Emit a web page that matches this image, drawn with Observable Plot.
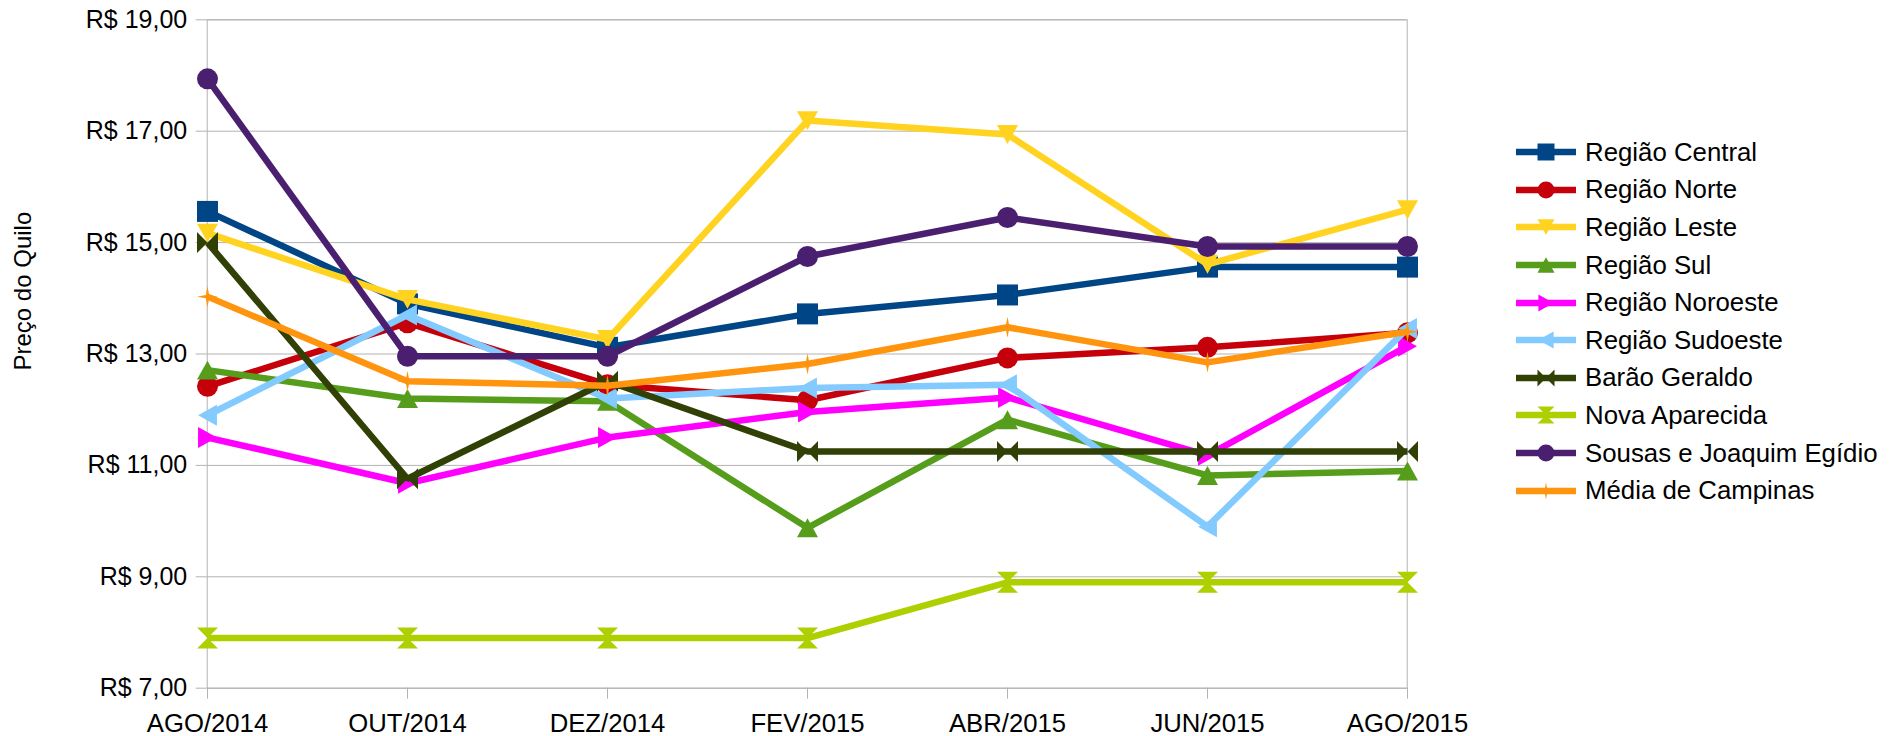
<!DOCTYPE html>
<html><head><meta charset="utf-8">
<script src="https://cdn.jsdelivr.net/npm/d3@7"></script>
<script src="https://cdn.jsdelivr.net/npm/@observablehq/plot@0.6"></script>
<style>
body{margin:0;background:#fff;font-family:"Liberation Sans",Arial,sans-serif;}
#wrap{position:relative;width:1898px;height:736px;}
#legend{position:absolute;left:1516px;top:133.5px;}
.row{display:flex;align-items:center;height:37.6px;font-size:25.8px;color:#000;white-space:nowrap;}
.row svg{margin-right:9px;flex:none;}
</style></head><body><div id="wrap"><div id="legend"></div></div>
<script>
const months = ["AGO/2014","OUT/2014","DEZ/2014","FEV/2015","ABR/2015","JUN/2015","AGO/2015"];
const regiaoCentral  = [15.56,13.90,13.12,13.72,14.06,14.56,14.56];
const regiaoNorte    = [12.42,13.56,12.45,12.17,12.93,13.12,13.38];
const regiaoLeste    = [15.17,13.98,13.26,17.19,16.94,14.61,15.59];
const regiaoSul      = [12.71,12.20,12.15,9.88,11.82,10.82,10.90];
const regiaoNoroeste = [11.50,10.68,11.50,11.96,12.22,11.18,13.14];
const regiaoSudoeste = [11.90,13.70,12.20,12.39,12.45,9.90,13.46];
const baraoGeraldo   = [15.00,10.76,12.51,11.25,11.25,11.25,11.25];
const novaAparecida  = [7.90,7.90,7.90,7.90,8.90,8.90,8.90];
const sousasJoaquim  = [17.94,12.96,12.96,14.75,15.45,14.93,14.93];
const mediaCampinas  = [14.03,12.51,12.43,12.82,13.48,12.85,13.40];

const seriesNames = ["Região Central","Região Norte","Região Leste","Região Sul","Região Noroeste","Região Sudoeste","Barão Geraldo","Nova Aparecida","Sousas e Joaquim Egídio","Média de Campinas"];
const seriesValues = [regiaoCentral,regiaoNorte,regiaoLeste,regiaoSul,regiaoNoroeste,regiaoSudoeste,baraoGeraldo,novaAparecida,sousasJoaquim,mediaCampinas];
const seriesColors = ["#004586","#c5000b","#ffd320","#579d1c","#ff00ff","#83caff","#314004","#aecf00","#4b1f6f","#ff950e"];
const seriesShapes = ["square","circle","down","up","right","left","bowtie","hourglass","circle","star"];
const yTicks = [7,9,11,13,15,17,19];

const shapes = {
  square:(c,h)=>{c.moveTo(-h,-h);c.lineTo(h,-h);c.lineTo(h,h);c.lineTo(-h,h);c.closePath();},
  circle:(c,h)=>{c.moveTo(h,0);c.arc(0,0,h,0,2*Math.PI);c.closePath();},
  down:(c,h)=>{c.moveTo(-h,-h*0.9);c.lineTo(h,-h*0.9);c.lineTo(0,h*0.9);c.closePath();},
  up:(c,h)=>{c.moveTo(-h,h*0.9);c.lineTo(h,h*0.9);c.lineTo(0,-h*0.9);c.closePath();},
  right:(c,h)=>{c.moveTo(-h*0.9,-h);c.lineTo(-h*0.9,h);c.lineTo(h*0.9,0);c.closePath();},
  left:(c,h)=>{c.moveTo(h*0.9,-h);c.lineTo(h*0.9,h);c.lineTo(-h*0.9,0);c.closePath();},
  bowtie:(c,h)=>{c.moveTo(-h,-h);c.lineTo(0,0);c.lineTo(-h,h);c.closePath();c.moveTo(h,-h);c.lineTo(0,0);c.lineTo(h,h);c.closePath();},
  hourglass:(c,h)=>{c.moveTo(-h,-h);c.lineTo(h,-h);c.lineTo(0,0);c.closePath();c.moveTo(-h,h);c.lineTo(h,h);c.lineTo(0,0);c.closePath();},
  star:(c,h)=>{const w=h*0.16;c.moveTo(0,-h);c.lineTo(w,-w);c.lineTo(h,0);c.lineTo(w,w);c.lineTo(0,h);c.lineTo(-w,w);c.lineTo(-h,0);c.lineTo(-w,-w);c.closePath();}
};
const symbolOf = name => ({draw(ctx,size){ shapes[name](ctx, Math.sqrt(size/Math.PI)); }});

const fmt = d => "R$ " + d.toFixed(2).replace(".", ",");
const grid = "#b3b3b3";

const marks = [
  Plot.gridY(yTicks, {stroke: grid, strokeOpacity: 1}),
  Plot.frame({stroke: grid}),
  Plot.axisY({ticks: yTicks, tickSize: 11, tickPadding: 9, tickFormat: fmt, stroke: grid, strokeOpacity: 1, fill: "#000", fontSize: 25, label: null}),
  Plot.axisX({tickSize: 11, tickPadding: 15, stroke: grid, strokeOpacity: 1, fill: "#000", fontSize: 25.7, label: null}),
  Plot.text(["Preço do Quilo"], {frameAnchor: "left", rotate: -90, dx: -183.7, dy: 16.5, fontSize: 24, fill: "#000"})
];
seriesNames.forEach((name, i) => {
  const data = months.map((m, j) => ({month: m, value: seriesValues[i][j]}));
  marks.push(Plot.line(data, {x: "month", y: "value", stroke: seriesColors[i], strokeWidth: 6.5, strokeLinejoin: "miter", strokeLinecap: "butt"}));
  marks.push(Plot.dot(data, {x: "month", y: "value", symbol: symbolOf(seriesShapes[i]), r: 10.5, fill: seriesColors[i], stroke: "none"}));
});

const chart = Plot.plot({
  width: 1898, height: 736,
  marginLeft: 206.7, marginRight: 491.3, marginTop: 19.3, marginBottom: 48.3,
  style: {fontFamily: "'Liberation Sans', Arial, sans-serif", background: "#fff", overflow: "visible"},
  x: {type: "point", domain: months, padding: 0},
  y: {domain: [7, 19]},
  marks
});
document.getElementById("wrap").prepend(chart);

const legend = document.getElementById("legend");
seriesNames.forEach((name, i) => {
  const row = document.createElement("div");
  row.className = "row";
  const p = d3.path();
  shapes[seriesShapes[i]](p, 8.5);
  row.innerHTML = `<svg width="60" height="22" viewBox="0 -11 60 22"><line x1="0" x2="60" y1="0" y2="0" stroke="${seriesColors[i]}" stroke-width="6.5"/><path transform="translate(30,0)" d="${p.toString()}" fill="${seriesColors[i]}"/></svg><span>${name}</span>`;
  legend.appendChild(row);
});
</script></body></html>
